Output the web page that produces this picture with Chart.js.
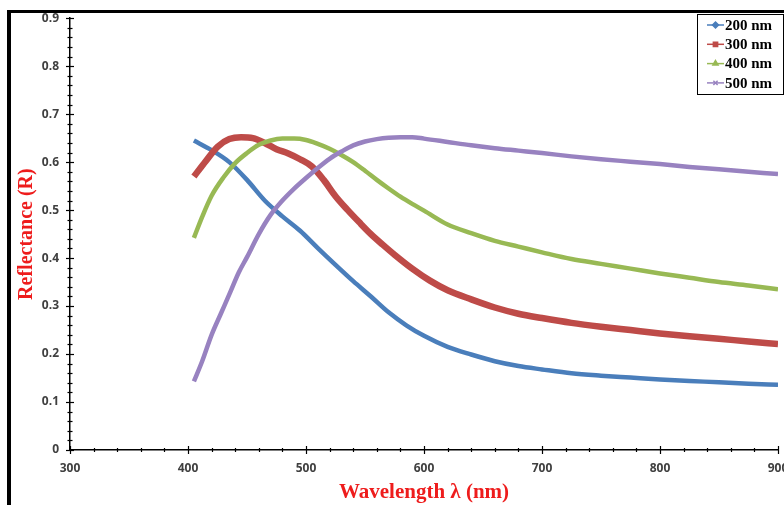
<!DOCTYPE html>
<html>
<head>
<meta charset="utf-8">
<script src="https://cdn.jsdelivr.net/npm/chart.js@4/dist/chart.umd.min.js"></script>
<style>
  body { margin: 0; background: #fff; }
  #wrap { position: relative; width: 784px; height: 505px; overflow: hidden; }
  #frame { position: absolute; left: 7px; top: 10px; width: 800px; height: 520px;
           border-left: 4px solid #000; border-top: 3px solid #000; box-sizing: border-box; }
  canvas { position: absolute; left: 0; top: 0; }
</style>
</head>
<body>
<div id="wrap">
  <div id="frame"></div>
  <canvas id="chart" width="784" height="505"></canvas>
</div>
<script>
// Значения (длина волны, нм -> отражение R)
const wl200 = [405, 420, 435, 450, 465, 480, 495, 510, 525, 540, 555, 570, 585, 600, 620, 640, 660, 680, 700, 725, 750, 775, 800, 825, 850, 875, 900];
const r200 = [0.645, 0.625, 0.600, 0.563, 0.520, 0.487, 0.457, 0.421, 0.386, 0.352, 0.320, 0.287, 0.260, 0.238, 0.215, 0.199, 0.185, 0.175, 0.168, 0.160, 0.155, 0.151, 0.147, 0.144, 0.141, 0.138, 0.136];

const wl300 = [405, 415, 425, 435, 445, 455, 465, 475, 485, 495, 505, 515, 525, 535, 545, 555, 565, 575, 590, 605, 620, 640, 660, 680, 700, 725, 750, 775, 800, 825, 850, 875, 900];
const r300 = [0.570, 0.602, 0.632, 0.648, 0.652, 0.650, 0.640, 0.627, 0.618, 0.606, 0.591, 0.563, 0.529, 0.501, 0.475, 0.450, 0.428, 0.407, 0.378, 0.353, 0.333, 0.314, 0.297, 0.284, 0.275, 0.265, 0.257, 0.250, 0.243, 0.237, 0.232, 0.226, 0.221];

const wl400 = [405, 412, 420, 430, 440, 450, 460, 470, 480, 490, 500, 510, 520, 530, 540, 550, 560, 570, 580, 590, 600, 620, 640, 660, 680, 700, 725, 750, 775, 800, 825, 850, 875, 900];
const r400 = [0.442, 0.486, 0.530, 0.568, 0.598, 0.619, 0.636, 0.645, 0.649, 0.649, 0.646, 0.638, 0.628, 0.615, 0.600, 0.582, 0.563, 0.545, 0.528, 0.513, 0.499, 0.470, 0.452, 0.436, 0.424, 0.412, 0.398, 0.388, 0.378, 0.368, 0.359, 0.350, 0.343, 0.335];

const wl500 = [405, 412, 420, 428, 436, 443, 450, 460, 470, 480, 490, 500, 510, 520, 530, 540, 550, 560, 570, 580, 590, 600, 620, 640, 660, 680, 700, 725, 750, 775, 800, 825, 850, 875, 900];
const r500 = [0.143, 0.185, 0.240, 0.285, 0.330, 0.370, 0.402, 0.450, 0.490, 0.520, 0.545, 0.567, 0.588, 0.607, 0.622, 0.635, 0.643, 0.648, 0.651, 0.652, 0.652, 0.649, 0.642, 0.635, 0.629, 0.624, 0.619, 0.612, 0.606, 0.601, 0.596, 0.590, 0.585, 0.580, 0.575];

const seriesNames = ['200 nm', '300 nm', '400 nm', '500 nm'];
const seriesColors = ['#4a7ebb', '#be4b48', '#98b954', '#9882c0'];
const seriesMarkers = ['rectRot', 'rect', 'triangle', 'crossRot'];

const xMin = 300, xMax = 900, xStep = 20;
const yMin = 0, yMax = 0.9, yStep = 0.02;

function pts(xs, ys) {
    return xs.map((x, i) => ({ x: x, y: ys[i] }));
}

// Засечки на осях, пересекающие линию оси
const crossTicks = {
    id: 'crossTicks',
    afterDraw(chart) {
        const ctx = chart.ctx;
        const xs = chart.scales.x, ys = chart.scales.y;
        const area = chart.chartArea;
        ctx.save();
        ctx.strokeStyle = '#000';
        ctx.lineWidth = 1.2;
        xs.ticks.forEach(t => {
            const px = Math.round(xs.getPixelForValue(t.value)) + 0.5;
            const len = Math.round(t.value) % 100 === 0 ? 4 : 2;
            ctx.beginPath();
            ctx.moveTo(px, area.bottom - len);
            ctx.lineTo(px, area.bottom + len);
            ctx.stroke();
        });
        ys.ticks.forEach(t => {
            const py = Math.round(ys.getPixelForValue(t.value)) + 0.5;
            const major = Math.abs(t.value * 10 - Math.round(t.value * 10)) < 1e-6;
            const len = major ? 4 : 2.5;
            ctx.beginPath();
            ctx.moveTo(area.left - len, py);
            ctx.lineTo(area.left + len, py);
            ctx.stroke();
        });
        ctx.restore();
    }
};

// Легенда в рамке в правом верхнем углу
const boxLegend = {
    id: 'boxLegend',
    afterDraw(chart) {
        const ctx = chart.ctx;
        ctx.save();
        ctx.fillStyle = '#fff';
        ctx.fillRect(697, 14, 87, 81);
        ctx.strokeStyle = '#000';
        ctx.lineWidth = 1;
        ctx.strokeRect(697.5, 14.5, 86, 80);
        chart.data.datasets.forEach((ds, i) => {
            const y = 25 + i * 19.3;
            ctx.strokeStyle = ds.borderColor;
            ctx.lineWidth = 1.5;
            ctx.beginPath();
            ctx.moveTo(707, y);
            ctx.lineTo(724, y);
            ctx.stroke();
            ctx.fillStyle = ds.borderColor;
            Chart.helpers.drawPoint(ctx, {
                pointStyle: seriesMarkers[i], radius: 3, rotation: 0, borderWidth: 1.2
            }, 715.5, y);
            ctx.fillStyle = '#000';
            ctx.font = 'bold 15px "Liberation Serif"';
            ctx.textBaseline = 'middle';
            ctx.fillText(ds.label, 725, y + 1);
        });
        ctx.restore();
    }
};

const ctx = document.getElementById('chart').getContext('2d');

new Chart(ctx, {
    type: 'line',
    data: {
        datasets: [
            { label: seriesNames[0], data: pts(wl200, r200) },
            { label: seriesNames[1], data: pts(wl300, r300) },
            { label: seriesNames[2], data: pts(wl400, r400) },
            { label: seriesNames[3], data: pts(wl500, r500) }
        ].map((d, i) => Object.assign(d, {
            borderColor: seriesColors[i],
            backgroundColor: seriesColors[i],
            borderWidth: [4.5, 6.5, 4.5, 4.5][i],
            pointRadius: 0,
            cubicInterpolationMode: 'monotone',
            order: 3 - i
        }))
    },
    options: {
        responsive: false,
        animation: false,
        layout: { padding: { left: 0, top: 18, right: 6, bottom: 0 } },
        plugins: { legend: { display: false }, tooltip: { enabled: false } },
        scales: {
            x: {
                type: 'linear',
                min: xMin, max: xMax,
                afterFit: s => { s.height = 55; s.paddingLeft = 0; s.paddingRight = 0; },
                grid: { display: false, drawTicks: false },
                border: { display: true, color: '#000', width: 1.5 },
                ticks: {
                    stepSize: xStep, autoSkip: false, maxRotation: 0, padding: 11,
                    color: '#404040', font: { family: '"Open Sans"', size: 12, weight: 'bold' },
                    callback: v => (Math.round(v) % 100 === 0 ? String(Math.round(v)) : '')
                },
                title: {
                    display: true, text: 'Wavelength λ (nm)', color: '#ee1c1c',
                    font: { family: '"Liberation Serif"', size: 21, weight: 'bold' },
                    padding: { top: 0, bottom: 0 }
                }
            },
            y: {
                min: yMin, max: yMax,
                afterFit: s => { s.width = 70; },
                grid: { display: false, drawTicks: false },
                border: { display: true, color: '#000', width: 1.5 },
                ticks: {
                    stepSize: yStep, autoSkip: false, maxTicksLimit: 100, padding: 11,
                    color: '#404040', font: { family: '"Open Sans"', size: 12, weight: 'bold' },
                    callback: v => {
                        const k = Math.round(v * 10);
                        return Math.abs(v * 10 - k) < 1e-6 ? String(k / 10) : '';
                    }
                },
                title: {
                    display: true, text: 'Reflectance (R)', color: '#ee1c1c',
                    font: { family: '"Liberation Serif"', size: 20, weight: 'bold' },
                    padding: { top: 15, bottom: 0 }
                }
            }
        }
    },
    plugins: [crossTicks, boxLegend]
});
</script>
</body>
</html>
